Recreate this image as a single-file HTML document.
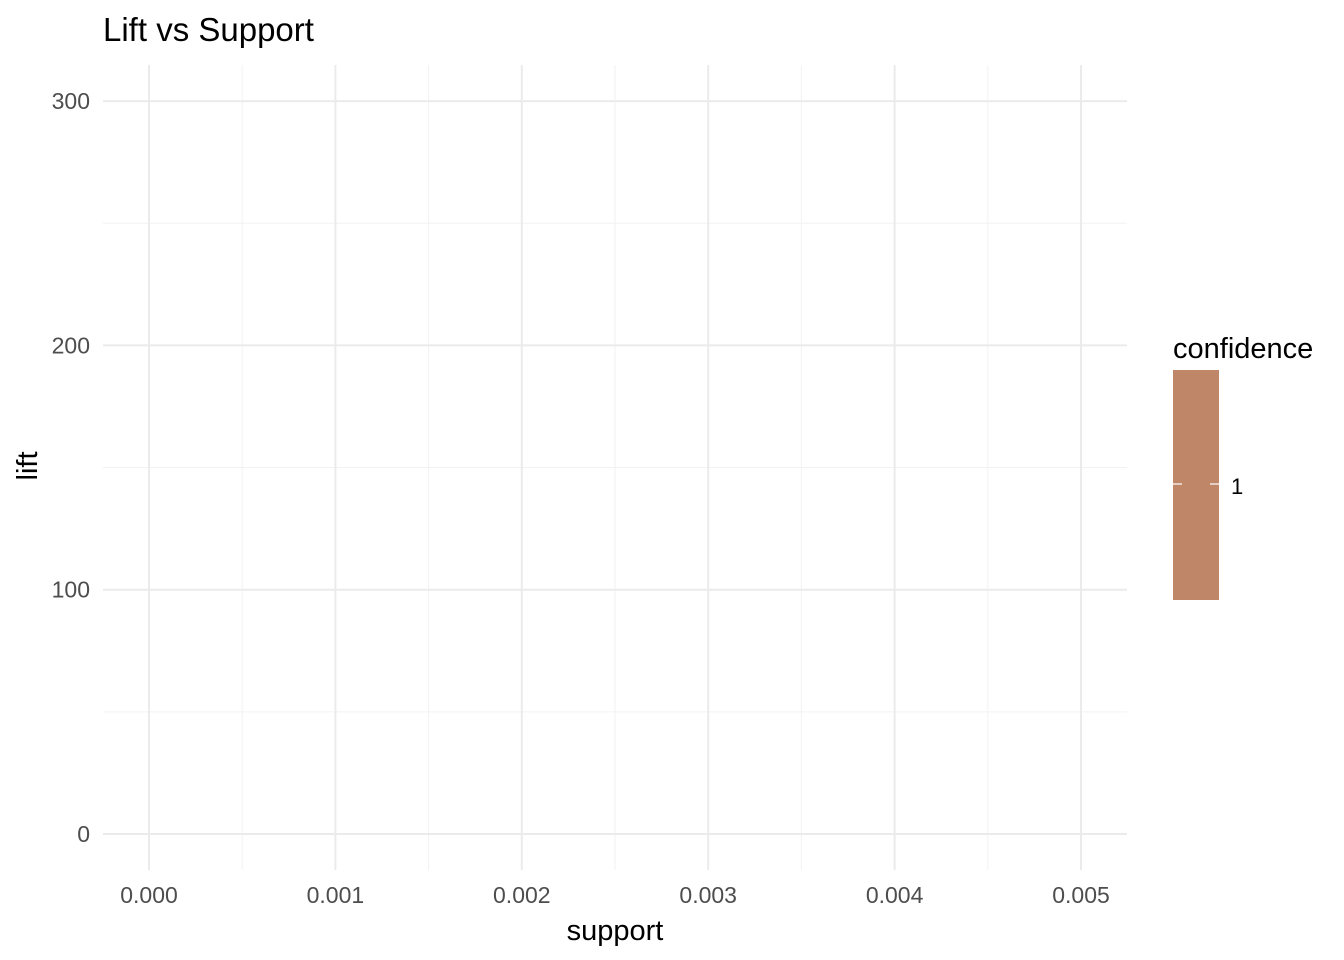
<!DOCTYPE html>
<html>
<head>
<meta charset="utf-8">
<style>
html,body{margin:0;padding:0;background:#fff;}
svg{display:block;font-family:"Liberation Sans",Arial,sans-serif;}
</style>
</head>
<body>
<svg id="chart" width="1344" height="960">
  <text x="103" y="41" font-size="33" fill="#000">Lift vs Support</text>
  <g id="grid"></g>
  <g id="marks"></g>
  <g id="xticks"></g>
  <g id="yticks"></g>
  <text x="615" y="940" font-size="29" text-anchor="middle" fill="#000">support</text>
  <text transform="translate(37,466) rotate(-90)" font-size="29" text-anchor="middle" fill="#000">lift</text>
  <g>
    <text x="1173" y="358" font-size="29" fill="#000">confidence</text>
    <rect x="1173" y="370" width="46" height="230" fill="#BF8668"></rect>
    <line x1="1173" y1="484" x2="1182" y2="484" stroke="#fff" stroke-width="1.2"></line>
    <line x1="1210" y1="484" x2="1219" y2="484" stroke="#fff" stroke-width="1.2"></line>
    <text x="1231" y="494" font-size="22" fill="#000">1</text>
  </g>
</svg>
<script>
const xTickValues = [0, 0.001, 0.002, 0.003, 0.004, 0.005];
const xTickLabels = ["0.000", "0.001", "0.002", "0.003", "0.004", "0.005"];
const yTickValues = [0, 100, 200, 300];
const yTickLabels = ["0", "100", "200", "300"];
const supportValues = [];
const liftValues = [];

const ns = "http://www.w3.org/2000/svg";
const panel = {left: 103, right: 1127, top: 65, bottom: 870};
function xScale(v){ return 149 + v * 186400; }
function yScale(v){ return 834 - v * 2.443; }

const grid = document.getElementById('grid');
const xt = document.getElementById('xticks');
const yt = document.getElementById('yticks');
function line(parent, x1, y1, x2, y2, w, c){
  const l = document.createElementNS(ns, 'line');
  l.setAttribute('x1', x1); l.setAttribute('y1', y1);
  l.setAttribute('x2', x2); l.setAttribute('y2', y2);
  l.setAttribute('stroke', c); l.setAttribute('stroke-width', w);
  parent.appendChild(l);
  return l;
}
for (let i = 0; i < xTickValues.length - 1; i++) {
  const m = (xTickValues[i] + xTickValues[i+1]) / 2;
  const l = line(grid, xScale(m), panel.top, xScale(m), panel.bottom, 1, '#F2F2F2');
  
  
}
for (let i = 0; i < yTickValues.length - 1; i++) {
  const m = (yTickValues[i] + yTickValues[i+1]) / 2;
  const l = line(grid, panel.left, yScale(m), panel.right, yScale(m), 1, '#F2F2F2');
  
  
}
xTickValues.forEach((v, i) => {
  const l = line(grid, xScale(v), panel.top, xScale(v), panel.bottom, 2, '#EBEBEB');
  
  
  const t = document.createElementNS(ns, 'text');
  t.setAttribute('x', xScale(v)); t.setAttribute('y', 903);
  t.setAttribute('text-anchor', 'middle'); t.setAttribute('font-size', '23'); t.setAttribute('fill', '#4D4D4D');
  t.textContent = xTickLabels[i];
  
  
  xt.appendChild(t);
});
yTickValues.forEach((v, i) => {
  const l = line(grid, panel.left, yScale(v), panel.right, yScale(v), 2, '#EBEBEB');
  
  
  const t = document.createElementNS(ns, 'text');
  t.setAttribute('x', 90); t.setAttribute('y', yScale(v) + 8);
  t.setAttribute('text-anchor', 'end'); t.setAttribute('font-size', '23'); t.setAttribute('fill', '#4D4D4D');
  t.textContent = yTickLabels[i];
  
  
  yt.appendChild(t);
});
const marks = document.getElementById('marks');
supportValues.forEach((s, i) => {
  const c = document.createElementNS(ns, 'circle');
  c.setAttribute('cx', xScale(s)); c.setAttribute('cy', yScale(liftValues[i]));
  c.setAttribute('r', 3); c.setAttribute('fill', '#BF8668');
  
  
  marks.appendChild(c);
});
</script>
</body>
</html>
